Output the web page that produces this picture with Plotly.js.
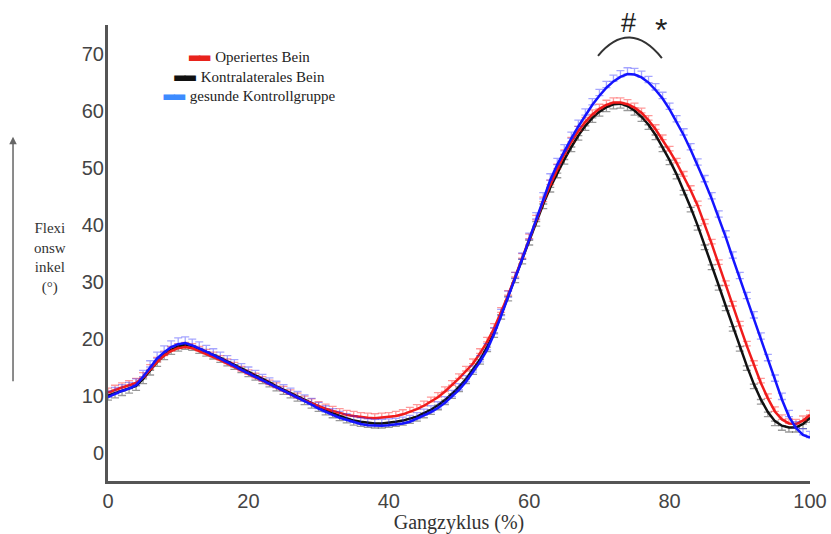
<!DOCTYPE html>
<html>
<head>
<meta charset="utf-8">
<script src="https://cdn.plot.ly/plotly-3.0.1.min.js"></script>
<style>html,body{margin:0;padding:0;background:#fff}#chart{width:831px;height:534px}</style>
</head>
<body>
<div id="chart"></div>
<script>
const gaitCycle = [0,1,2,3,4,5,6,7,8,9,10,11,12,13,14,15,16,17,18,19,20,21,22,23,24,25,26,27,28,29,30,31,32,33,34,35,36,37,38,39,40,41,42,43,44,45,46,47,48,49,50,51,52,53,54,55,56,57,58,59,60,61,62,63,64,65,66,67,68,69,70,71,72,73,74,75,76,77,78,79,80,81,82,83,84,85,86,87,88,89,90,91,92,93,94,95,96,97,98,99,100];

const operiertesBein = [10.5,11.0,11.4,11.8,12.2,13.2,14.6,15.9,17.0,17.8,18.3,18.5,18.3,17.8,17.3,16.8,16.2,15.6,15.0,14.3,13.7,13.1,12.5,11.9,11.4,10.8,10.2,9.6,9.1,8.6,8.1,7.7,7.3,6.9,6.6,6.4,6.2,6.1,6.0,6.1,6.2,6.4,6.7,7.1,7.6,8.2,8.9,9.7,10.7,11.8,13.0,14.3,15.6,17.4,19.4,21.8,24.6,27.6,30.8,34.1,37.5,40.8,44.0,47.0,49.8,52.3,54.5,56.4,58.0,59.3,60.3,61.0,61.4,61.4,61.1,60.5,59.6,58.3,56.7,54.9,52.9,50.8,48.5,46.0,43.3,40.1,36.6,33.0,29.3,25.7,22.2,18.7,15.3,12.2,9.5,7.2,5.8,5.1,5.0,5.6,6.6];

const kontralateralesBein = [10.0,10.4,10.8,11.2,11.7,12.9,14.4,15.9,17.1,18.0,18.6,18.9,18.7,18.2,17.7,17.2,16.6,16.0,15.4,14.8,14.1,13.5,12.9,12.3,11.6,11.0,10.4,9.8,9.2,8.6,8.0,7.4,6.9,6.4,6.0,5.6,5.4,5.2,5.1,5.1,5.2,5.4,5.6,5.9,6.3,6.9,7.5,8.3,9.2,10.3,11.5,12.9,14.5,16.3,18.5,21.0,24.2,27.4,30.6,33.9,37.2,40.5,43.6,46.5,49.0,51.4,53.6,55.6,57.3,58.7,59.8,60.6,61.1,61.2,60.8,60.0,58.9,57.5,55.7,53.6,51.3,48.8,46.0,43.0,39.8,36.4,32.9,29.3,25.7,22.1,18.6,15.2,12.0,9.3,7.1,5.5,4.7,4.4,4.4,5.0,6.1];

const kontrollgruppe = [9.7,10.3,10.8,11.2,11.8,13.3,15.0,16.5,17.6,18.5,19.0,19.2,18.8,18.3,17.7,17.1,16.5,15.9,15.2,14.5,13.9,13.3,12.6,12.0,11.4,10.8,10.2,9.6,9.0,8.4,7.7,7.1,6.6,6.1,5.7,5.3,5.0,4.8,4.7,4.7,4.8,4.9,5.1,5.4,5.9,6.5,7.1,7.8,8.7,9.8,11.0,12.4,14.1,15.9,18.0,20.8,24.0,27.2,30.5,33.9,37.4,41.0,44.5,47.8,50.5,52.9,55.1,57.2,59.2,61.0,62.6,64.0,65.1,65.9,66.4,66.3,65.8,64.9,63.6,62.1,60.2,58.0,55.7,53.1,50.4,47.5,44.5,41.3,37.8,34.1,30.5,27.0,23.6,19.9,16.1,12.5,9.3,6.3,4.3,3.1,2.6];

const seriesNames = ['Operiertes Bein','Kontralaterales Bein','gesunde Kontrollgruppe'];
const xTicks = [0,20,40,60,80,100];
const yTicks = [0,10,20,30,40,50,60,70];
const yTitleLines = ['Flexi','onsw','inkel','(°)'];

const sans = 'Liberation Sans, Arial, sans-serif';
const serif = 'Liberation Serif, Times New Roman, serif';

const traces = [
  {x: gaitCycle, y: kontralateralesBein, name: seriesNames[1], type:'scatter', mode:'lines',
   line:{color:'#111111', width:2.5},
   error_y:{type:'constant', symmetric:false, value:0, valueminus:0.8, color:'rgba(0,0,0,0.4)', thickness:1.3, width:4}},
  {x: gaitCycle, y: operiertesBein, name: seriesNames[0], type:'scatter', mode:'lines',
   line:{color:'#f01c1c', width:2.5},
   error_y:{type:'constant', symmetric:false, value:0.8, valueminus:0, color:'rgba(255,0,0,0.4)', thickness:1.3, width:4}},
  {x: gaitCycle, y: kontrollgruppe, name: seriesNames[2], type:'scatter', mode:'lines',
   line:{color:'#1414ff', width:2.5},
   error_y:{type:'constant', symmetric:false, value:1.1, valueminus:0, color:'rgba(30,30,255,0.4)', thickness:1.3, width:4}}
];

const legendColors = ['#e8231c','#111111','#3d8bff'];
const legendText = seriesNames.map((n,i)=>
  '<span style="color:'+legendColors[i]+';font-family:DejaVu Sans;letter-spacing:-4px">▬▬</span>  '+n).join('<br>');

const annotations = [
  {xref:'paper', yref:'paper', x:0.201, y:0.886, xanchor:'center', yanchor:'middle', align:'center',
   showarrow:false, font:{family:serif, size:15, color:'#222'}, text:legendText},
  {xref:'paper', yref:'paper', x:-0.0833, y:0.489, xanchor:'center', yanchor:'middle', align:'center',
   showarrow:false, font:{family:serif, size:15, color:'#333'}, text:yTitleLines.join('<br>')},
  {xref:'paper', yref:'paper', x:-0.1353, y:0.755, text:'', showarrow:true,
   arrowhead:2, arrowsize:1, arrowwidth:1.5, arrowcolor:'#666', ax:0, ay:246, standoff:0},
  {xref:'x', yref:'paper', x:74.1, y:1.004, text:'#', showarrow:false,
   font:{family:sans, size:27, color:'#222'}, xanchor:'center', yanchor:'middle'},
  {xref:'x', yref:'paper', x:78.8, y:0.988, text:'*', showarrow:false,
   font:{family:sans, size:32, color:'#222'}, xanchor:'center', yanchor:'middle'}
];

const layout = {
  width:831, height:534,
  margin:{l:108, r:21, t:25, b:53},
  paper_bgcolor:'#fff', plot_bgcolor:'#fff',
  showlegend:false,
  xaxis:{range:[0,100], tickvals:xTicks, ticktext:xTicks.map(String), showgrid:false, zeroline:false,
    showline:true, linecolor:'#555', linewidth:3, ticks:'', tickfont:{family:sans, size:20, color:'#444'},
    title:{text:'Gangzyklus (%)', font:{family:serif, size:20, color:'#333'}, standoff:10}},
  yaxis:{range:[-5,75], tickvals:yTicks, ticktext:yTicks.map(String), showgrid:false, zeroline:false,
    showline:true, linecolor:'#555', linewidth:3, ticks:'', ticklabelstandoff:-3,
    tickfont:{family:sans, size:20, color:'#444'}},
  shapes:[{type:'path', xref:'x', yref:'y', path:'M 69.8,69.6 Q 74.3,76.2 78.9,69.2',
    line:{color:'#333', width:2}}],
  annotations: annotations
};

Plotly.newPlot('chart', traces, layout, {displayModeBar:false, staticPlot:true});
</script>
</body>
</html>
